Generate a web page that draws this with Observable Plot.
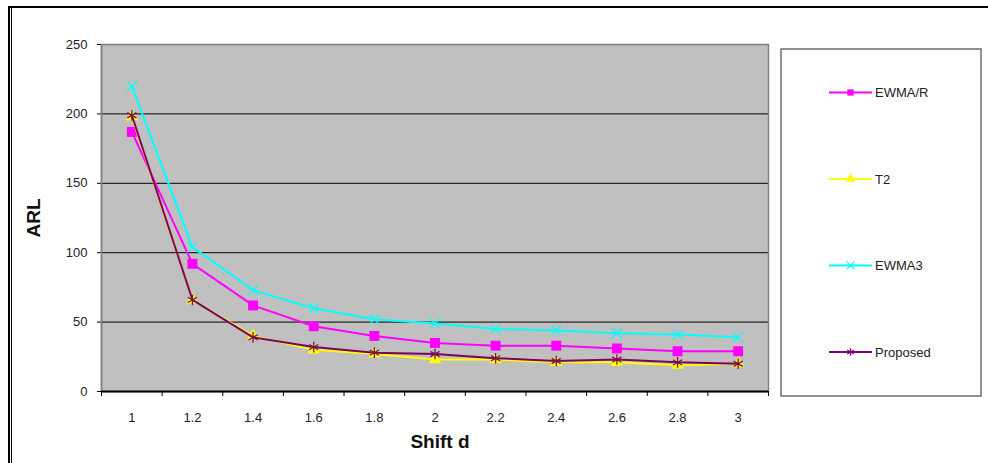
<!DOCTYPE html>
<html>
<head>
<meta charset="utf-8">
<script src="https://cdn.jsdelivr.net/npm/d3@7"></script>
<script src="https://cdn.jsdelivr.net/npm/@observablehq/plot@0.6"></script>
<style>
  body { margin: 0; background: #fff; }
  #wrap { position: relative; width: 988px; height: 463px; overflow: hidden; background: #fff; font-family: Arial, "Liberation Sans", sans-serif; }
  #wrap svg { position: absolute; left: 0; top: 0; }
  .bt { position: absolute; left: 8px; top: 6px; width: 980px; height: 2px; background: #000; }
  .bl1 { position: absolute; left: 8px; top: 6px; width: 2px; height: 457px; background: #000; }
  .bl2 { position: absolute; left: 11px; top: 8px; width: 1px; height: 455px; background: #000; }
</style>
</head>
<body>
<div id="wrap">
  <div class="bt"></div><div class="bl1"></div><div class="bl2"></div>
</div>
<script>
const shiftD   = [1, 1.2, 1.4, 1.6, 1.8, 2, 2.2, 2.4, 2.6, 2.8, 3];
const ewmaR    = [187, 92, 62, 47, 40, 35, 33, 33, 31, 29, 29];
const t2       = [198, 66, 40, 30, 27, 23, 23, 21, 21, 19, 20];
const ewma3    = [220, 104, 73, 60, 52, 49, 45, 44, 42, 41, 39];
const proposed = [199, 66, 39, 32, 28, 27, 24, 22, 23, 21, 20];
const yTicks   = [0, 50, 100, 150, 200, 250];
const seriesNames = ["EWMA/R", "T2", "EWMA3", "Proposed"];
const xLabel = "Shift d";
const yLabel = "ARL";

const seriesValues = [ewmaR, t2, ewma3, proposed];
const colors  = ["#ff00ff", "#ffff00", "#00ffff", "#800060"];
const symbols = ["square", "triangle", "times", "asterisk"];
const radii   = [5.6, 4.6, 4.6, 5];

const data = [];
seriesNames.forEach((s, i) => shiftD.forEach((d, j) => data.push({series: s, x: d, y: seriesValues[i][j]})));

const half = (shiftD[1] - shiftD[0]) / 2;
const bounds = [...shiftD.map(d => +(d - half).toFixed(3)), +(shiftD[shiftD.length - 1] + half).toFixed(3)];

const marks = [
  Plot.frame({fill: "#c0c0c0", stroke: null}),
  Plot.gridY(yTicks.filter(v => v > 0 && v < 250), {stroke: "#000", strokeOpacity: 1, strokeWidth: 1}),
  Plot.frame({stroke: "#808080", strokeWidth: 1.5}),
  Plot.axisY(yTicks, {tickSize: 4, tickPadding: 10, label: null, fontSize: 13, color: "#222", stroke: "#000"}),
  Plot.ruleX([bounds[0]], {stroke: "#808080", strokeWidth: 1.5}),
  Plot.axisX(shiftD, {tickSize: 0, tickPadding: 21, label: null, fontSize: 13, color: "#222", tickFormat: d => String(d)}),
  Plot.axisX(bounds, {tickSize: 5, tickFormat: () => "", label: null, stroke: "#000"}),
  Plot.ruleY([0], {stroke: "#000", strokeWidth: 2})
];
seriesNames.forEach((s, i) => {
  const sub = data.filter(d => d.series === s);
  marks.push(Plot.line(sub, {x: "x", y: "y", stroke: colors[i], strokeWidth: 2}));
  const filled = symbols[i] === "square" || symbols[i] === "triangle";
  marks.push(Plot.dot(sub, {x: "x", y: "y", symbol: () => symbols[i], r: radii[i],
    fill: filled ? colors[i] : "none", stroke: filled ? "none" : (i === 3 ? "#7a1050" : colors[i]), strokeWidth: 1.3}));
});

const chart = Plot.plot({
  width: 988,
  height: 463,
  marginLeft: 101,
  marginRight: 220,
  marginTop: 44,
  marginBottom: 72,
  style: {background: "transparent", fontFamily: "Arial, 'Liberation Sans', sans-serif", fontSize: "13px"},
  x: {type: "linear", domain: [bounds[0], bounds[bounds.length - 1]], axis: null},
  y: {type: "linear", domain: [yTicks[0], yTicks[yTicks.length - 1]], axis: null},
  marks
});

const wrap = document.getElementById("wrap");
wrap.appendChild(chart);

const svg = d3.select(chart);
// axis titles
svg.append("text").attr("x", 440).attr("y", 448).attr("text-anchor", "middle")
  .attr("font-weight", "bold").attr("font-size", 19).attr("fill", "#111").text(xLabel);
svg.append("text").attr("transform", "translate(40,218) rotate(-90)").attr("text-anchor", "middle")
  .attr("font-weight", "bold").attr("font-size", 19).attr("fill", "#111").text(yLabel);

// legend
const lg = svg.append("g").attr("text-anchor", "start");
lg.append("rect").attr("x", 781).attr("y", 49).attr("width", 200).attr("height", 347)
  .attr("fill", "#fff").attr("stroke", "#6e6e6e").attr("stroke-width", 1.5);
seriesNames.forEach((s, i) => {
  const y = 92.5 + i * 86.5;
  lg.append("line").attr("x1", 829).attr("x2", 872).attr("y1", y).attr("y2", y)
    .attr("stroke", colors[i] === "#800060" ? "#800080" : colors[i]).attr("stroke-width", 2);
  const sym = d3.symbol().type({square: d3.symbolSquare, triangle: d3.symbolTriangle, times: d3.symbolTimes, asterisk: d3.symbolAsterisk}[symbols[i]]).size(40);
  const filled = symbols[i] === "square" || symbols[i] === "triangle";
  lg.append("path").attr("d", sym()).attr("transform", `translate(850.5,${y})`)
    .attr("fill", filled ? colors[i] : "none").attr("stroke", filled ? "none" : (i === 3 ? "#800080" : colors[i])).attr("stroke-width", 1.2);
  lg.append("text").attr("x", 875).attr("y", y).attr("dy", "0.35em").attr("text-anchor", "start")
    .attr("font-size", 13).attr("fill", "#222").text(s);
});
</script>
</body>
</html>
